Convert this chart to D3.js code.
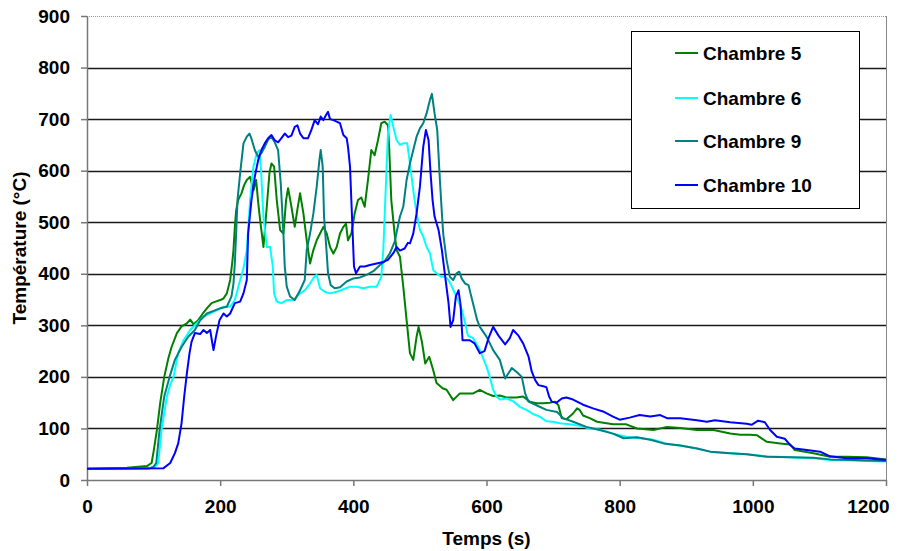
<!DOCTYPE html>
<html><head><meta charset="utf-8">
<script src="https://cdn.jsdelivr.net/npm/d3@7"></script>
<style>
html,body{margin:0;padding:0;background:#fff;}
svg{display:block;font-family:"Liberation Sans",Arial,sans-serif;}
</style></head>
<body>
<svg id="chart" width="911" height="551"></svg>
<script>
const seriesNames = ["Chambre 5","Chambre 6","Chambre 9","Chambre 10"];
const seriesColors = ["#008000","#00FFFF","#008080","#0000FF"];
const xTicks = [0,200,400,600,800,1000,1200];
const yTicks = [0,100,200,300,400,500,600,700,800,900];

const c5T = [0,60,90,97,100,105,110,116,122,127,135,142,150,155,160,167,174,180,187,193,200,205,210,215,218,220,222,224,227,232,236,240,245,250,254,257,260,265,270,274,277,281,285,290,295,299,302,307,312,316,320,325,330,335,340,345,350,355,360,365,370,375,380,385,389,392,397,402,407,412,417,422,427,432,437,442,447,452,454,457,462,465,470,475,480,485,490,495,498,503,508,514,520,525,534,540,550,560,570,580,590,600,610,620,630,645,655,665,675,685,695,703,708,713,720,730,736,740,745,755,766,790,810,826,851,871,891,916,941,966,981,996,1006,1021,1041,1056,1063,1091,1116,1141,1171,1200];
const c5V = [22,24,27,33,55,97,150,200,235,258,285,298,304,311,302,310,323,333,343,346,349,352,362,388,420,446,490,523,543,556,572,582,588,562,582,540,504,452,530,595,614,608,543,485,478,543,566,530,491,525,556,517,465,420,446,465,478,491,478,452,439,452,478,491,497,465,478,517,543,548,530,582,640,630,659,692,695,688,640,543,478,446,433,375,310,246,233,278,297,268,226,239,213,188,178,175,155,168,168,168,175,168,163,164,160,160,162,152,149,149,150,152,145,120,118,129,139,136,125,120,113,108,108,100,97,103,101,97,97,90,88,88,87,74,71,69,58,52,45,45,44,40];

const c6T = [0,90,102,107,112,116,120,125,130,137,145,155,165,175,190,205,215,222,230,235,240,245,250,255,259,261,265,270,275,279,281,285,292,300,310,320,327,335,340,345,350,357,365,375,385,395,405,415,425,435,442,445,447,450,452,456,460,465,470,475,481,485,490,495,500,505,510,515,520,528,533,538,543,548,555,563,568,572,580,590,600,605,610,615,620,630,640,650,660,670,680,690,700,710,725,740,755,770,790,810,830,851,871,891,916,936,966,991,1021,1056,1091,1116,1151,1171,1200];
const c6V = [22,22,25,33,97,130,162,185,200,246,271,291,304,317,326,336,336,349,388,410,446,543,608,634,640,610,511,452,452,414,362,346,343,349,349,362,368,381,392,398,372,365,362,365,370,375,375,372,375,375,394,446,511,608,672,708,685,659,650,653,653,614,562,517,485,472,452,440,407,398,394,394,388,375,355,330,304,280,275,252,220,200,175,162,156,158,153,142,136,128,123,114,113,110,108,105,100,98,90,84,81,78,70,67,61,55,52,50,46,44,42,39,38,37,36];

const c9T = [0,95,100,104,109,116,124,132,142,152,162,170,180,190,200,210,217,220,222,224,226,230,235,240,244,247,252,257,262,267,272,277,282,287,291,295,297,300,305,312,320,327,330,335,340,345,349,351,354,356,360,362,366,372,380,390,400,410,420,430,440,447,455,462,470,475,480,485,490,495,500,505,510,515,518,522,526,530,533,535,540,545,550,555,559,563,568,573,576,581,586,590,600,610,620,628,638,645,653,658,663,675,690,706,715,730,750,770,790,806,826,846,866,891,916,936,966,991,1021,1056,1091,1116,1151,1171,1200];
const c9V = [22,23,26,33,97,162,200,233,258,278,291,310,323,328,333,336,356,381,420,478,543,595,653,666,672,662,640,627,634,646,660,666,655,640,575,478,414,375,356,349,368,388,446,478,517,569,620,640,608,511,440,401,378,372,374,385,391,393,398,405,417,424,440,462,511,530,582,614,640,666,682,692,711,737,749,711,679,582,517,478,427,394,388,401,404,390,381,378,362,336,310,297,278,252,233,197,217,210,200,168,152,145,136,132,120,113,103,97,90,81,83,78,71,67,61,55,52,50,45,44,43,40,39,38,37];

const c10T = [0,115,125,132,137,142,146,150,154,157,162,170,175,180,185,187,190,194,199,205,210,215,222,230,235,240,242,247,252,257,262,267,272,277,282,287,292,297,302,307,312,316,320,325,332,337,342,347,351,355,359,362,365,370,375,380,385,390,392,395,397,399,401,404,410,417,425,435,445,452,460,465,470,477,482,485,490,495,500,505,509,513,516,519,522,528,533,538,543,546,550,554,558,561,564,575,582,590,597,603,610,618,628,635,640,648,655,663,668,673,678,685,690,694,698,705,713,720,730,745,760,775,790,800,815,830,846,861,871,891,916,931,943,966,991,998,1008,1018,1026,1036,1048,1056,1063,1081,1101,1116,1141,1171,1200];
const c10V = [22,23,33,52,71,110,162,207,246,268,285,283,291,285,291,275,252,280,310,323,317,323,343,346,362,388,478,543,588,620,640,653,663,669,659,655,663,672,665,668,685,688,672,663,663,679,698,690,705,698,708,714,700,698,695,692,669,663,646,608,543,478,414,401,414,414,417,420,423,427,440,452,445,449,460,459,478,517,569,646,679,659,595,543,511,485,446,394,343,297,310,356,368,340,271,271,265,246,250,275,297,280,263,275,291,280,265,240,210,194,184,182,180,162,152,150,158,160,156,146,139,133,123,117,121,126,123,126,120,120,116,113,116,112,109,107,115,112,97,84,80,68,61,58,55,46,42,42,39];

const seriesT = [c5T,c6T,c9T,c10T];
const seriesV = [c5V,c6V,c9V,c10V];

const FS = 19;
const svg = d3.select("#chart");
const L = 87, R = 886, T = 16, B = 480;
const x = d3.scaleLinear().domain([0,1200]).range([L,R]);
const y = d3.scaleLinear().domain([0,900]).range([B,T]);

// gridlines
svg.append("g").selectAll("line").data(yTicks.filter(d=>d>0 && d<900)).join("line")
  .attr("x1",L).attr("x2",R).attr("y1",d=>Math.round(y(d))+0.5).attr("y2",d=>Math.round(y(d))+0.5)
  .attr("stroke","#1a1a1a").attr("stroke-width",1.3);
// top border (dotted light) and right border
svg.append("line").attr("x1",L).attr("x2",R).attr("y1",Math.round(y(900))+0.5).attr("y2",Math.round(y(900))+0.5)
  .attr("stroke","#999").attr("stroke-width",1).attr("stroke-dasharray","1,1");
svg.append("line").attr("x1",R+0.5).attr("x2",R+0.5).attr("y1",T).attr("y2",B)
  .attr("stroke","#888").attr("stroke-width",1);

// axes
const yAxis = d3.axisLeft(y).tickValues(yTicks).tickFormat(d3.format("d")).tickSize(6).tickSizeOuter(0).tickPadding(11);
const gy = svg.append("g").attr("transform",`translate(${L},0)`).call(yAxis);
const xAxis = d3.axisBottom(x).tickValues(xTicks).tickFormat(d3.format("d")).tickSize(6).tickSizeOuter(0).tickPadding(14);
const gx = svg.append("g").attr("transform",`translate(0,${B})`).call(xAxis);
[gx,gy].forEach(g=>{
  g.select(".domain").attr("stroke","#777").attr("stroke-width",1.5);
  g.selectAll(".tick line").attr("stroke","#777").attr("stroke-width",1.5);
  g.selectAll(".tick text").attr("font-size",FS).attr("font-weight","bold")
    .attr("font-family",'"Liberation Sans",Arial,sans-serif').attr("fill","#000");
});
// last x label kept inside the chart area, as in the original
gx.selectAll(".tick text").filter(d=>d===1200).attr("text-anchor","end").attr("x",3);

// lines
const line = d3.line().x(d=>x(d[0])).y(d=>y(d[1]));
seriesNames.forEach((name,i)=>{
  const pts = seriesT[i].map((t,j)=>[t,seriesV[i][j]]);
  svg.append("path").datum(pts).attr("d",line)
    .attr("fill","none").attr("stroke",seriesColors[i]).attr("stroke-width",2)
    .attr("stroke-linejoin","round");
});

// axis titles
svg.append("text").attr("x",(L+R)/2).attr("y",545).attr("text-anchor","middle")
  .attr("font-size",FS).attr("font-weight","bold").text("Temps (s)");
svg.append("text").attr("transform",`translate(26,${(T+B)/2}) rotate(-90)`).attr("text-anchor","middle")
  .attr("font-size",FS).attr("font-weight","bold").text("Température (°C)");

// legend
const lg = svg.append("g");
lg.append("rect").attr("x",631.5).attr("y",31.5).attr("width",228).attr("height",177)
  .attr("fill","#fff").attr("stroke","#000").attr("stroke-width",1);
const rowsY = [53,98,141,185];
seriesNames.forEach((name,i)=>{
  lg.append("line").attr("x1",675).attr("x2",698).attr("y1",rowsY[i]).attr("y2",rowsY[i])
    .attr("stroke",seriesColors[i]).attr("stroke-width",2);
  lg.append("text").attr("x",703).attr("y",rowsY[i]).attr("dy","0.35em")
    .attr("font-size",FS).attr("font-weight","bold").text(name);
});
</script>
</body></html>
